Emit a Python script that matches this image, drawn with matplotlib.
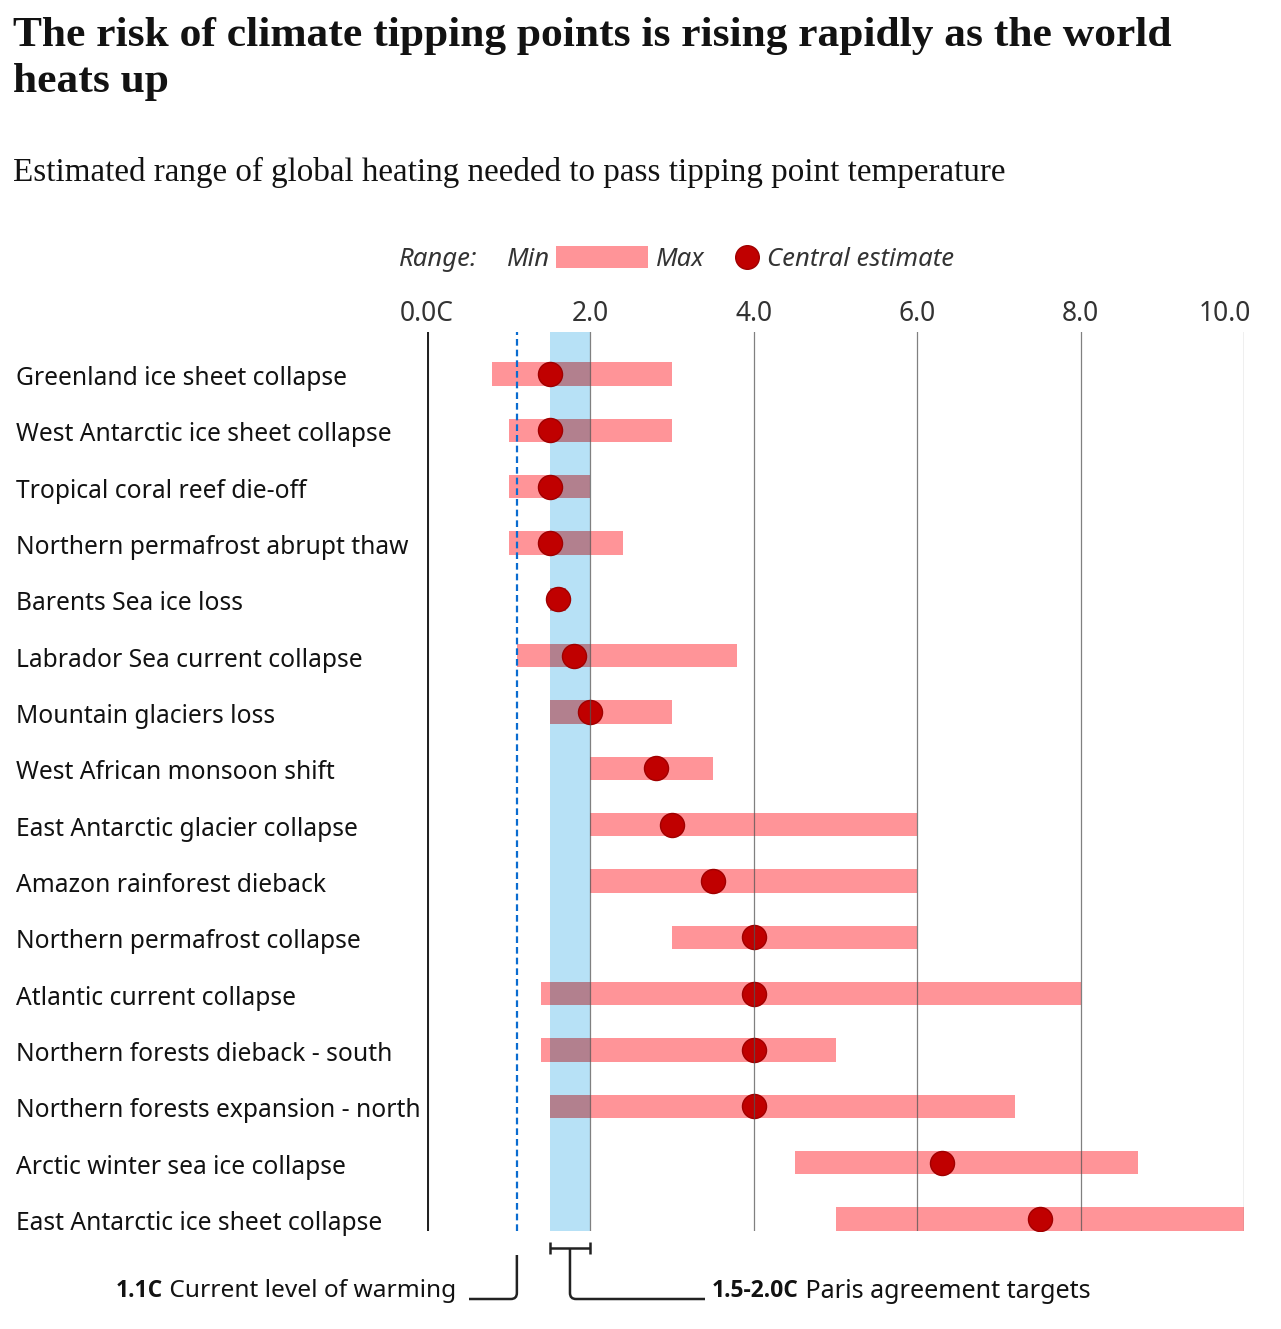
import matplotlib
matplotlib.use("Agg")
import matplotlib.pyplot as plt
from matplotlib.patches import Rectangle
from matplotlib.path import Path
from matplotlib.patches import PathPatch
import matplotlib.transforms as mtrans

# data (degrees C of global heating)
categories = [
    "Greenland ice sheet collapse",
    "West Antarctic ice sheet collapse",
    "Tropical coral reef die-off",
    "Northern permafrost abrupt thaw",
    "Barents Sea ice loss",
    "Labrador Sea current collapse",
    "Mountain glaciers loss",
    "West African monsoon shift",
    "East Antarctic glacier collapse",
    "Amazon rainforest dieback",
    "Northern permafrost collapse",
    "Atlantic current collapse",
    "Northern forests dieback - south",
    "Northern forests expansion - north",
    "Arctic winter sea ice collapse",
    "East Antarctic ice sheet collapse",
]
range_min = [0.8, 1.0, 1.0, 1.0, 1.5, 1.1, 1.5, 2.0, 2.0, 2.0, 3.0, 1.4, 1.4, 1.5, 4.5, 5.0]
range_max = [3.0, 3.0, 2.0, 2.4, 1.7, 3.8, 3.0, 3.5, 6.0, 6.0, 6.0, 8.0, 5.0, 7.2, 8.7, 10.0]
central = [1.5, 1.5, 1.5, 1.5, 1.6, 1.8, 2.0, 2.8, 3.0, 3.5, 4.0, 4.0, 4.0, 4.0, 6.3, 7.5]

tick_values = [0, 2, 4, 6, 8, 10]
tick_labels = ["0.0C", "2.0", "4.0", "6.0", "8.0", "10.0"]

current_warming = 1.1
paris_low, paris_high = 1.5, 2.0

SANS = "Noto Sans"
SANS_BOLD = "Open Sans"
SERIF = "Liberation Serif"
PINK = "#ff9498"
MAUVE = "#b2808e"
BLUE = "#b7e1f6"
RED = "#c00000"

W, H = 1281, 1329
fig = plt.figure(figsize=(W / 100, H / 100), dpi=100)

def fx(p):
    return p / W

def fy(p):
    return 1 - p / H

AX_L, AX_R, AX_T, AX_B = 427, 1244, 332, 1231
ax = fig.add_axes([fx(AX_L), fy(AX_B), fx(AX_R - AX_L), (AX_B - AX_T) / H])
ax.set_xlim(0, 10)
ax.set_ylim(15.213, -0.746)
ax.axis("off")

rows = list(range(len(categories)))

# Paris band and current warming line
ax.axvspan(paris_low, paris_high, color=BLUE, lw=0, zorder=1)
ax.axvline(current_warming, color="#0a6cd0", lw=1.6, ls=(0, (3, 1.8)), zorder=7)

# ranges
widths = [hi - lo for lo, hi in zip(range_min, range_max)]
ax.barh(rows, widths, left=range_min, height=0.41, color=PINK, lw=0, zorder=2)
for r, lo, hi in zip(rows, range_min, range_max):
    a, b = max(lo, paris_low), min(hi, paris_high)
    if b > a:
        ax.barh(r, b - a, left=a, height=0.41, color=MAUVE, lw=0, zorder=3)

ax.scatter(central, rows, s=300, color=RED, edgecolor="#a00000", lw=1, zorder=5)

# vertical gridlines
ax.axvline(0, color="#222222", lw=2.2, zorder=6)
for v in tick_values[1:]:
    ax.axvline(v, color="#555555", lw=0.9, alpha=0.75, zorder=6)

# tick labels on top (last one kept inside the frame)
for v, lab in zip(tick_values, tick_labels):
    xv = fx(AX_L) + v / 10 * fx(AX_R - AX_L)
    ha = "center"
    if v == tick_values[-1]:
        xv, ha = fx(1251), "right"
    fig.text(xv, fy(314), lab, ha=ha, va="center", fontsize=19,
             family=SANS, color="#333333")

# category labels
lab_tr = mtrans.blended_transform_factory(fig.transFigure, ax.transData)
for r, name in zip(rows, categories):
    ax.text(fx(16), r + 0.08, name, transform=lab_tr, ha="left", va="center",
            fontsize=17.7, family=SANS, color="#121212")

# title and subtitle
fig.text(fx(13), fy(17), "The risk of climate tipping points is rising rapidly as the world\nheats up",
         ha="left", va="top", fontsize=31.3, fontweight="bold", family=SERIF,
         color="#121212", linespacing=1.27)
fig.text(fx(13), fy(172), "Estimated range of global heating needed to pass tipping point temperature",
         ha="left", va="center", fontsize=23.9, family=SERIF, color="#121212")

# legend
leg_y = fy(259)
leg_kw = dict(ha="left", va="center", fontsize=18.5, style="italic", family=SANS, color="#333333")
fig.text(fx(399), leg_y, "Range:", **leg_kw)
fig.text(fx(507), leg_y, "Min", **leg_kw)
fig.patches.append(Rectangle((fx(556), fy(268)), fx(92), 22 / H, transform=fig.transFigure,
                             color=PINK, lw=0))
fig.text(fx(656), leg_y, "Max", **leg_kw)
fig.lines.append(plt.Line2D([fx(747)], [fy(257)], transform=fig.transFigure, marker="o",
                            markersize=17, color=RED, markeredgecolor="#a00000", ls="none"))
fig.text(fx(767), leg_y, "Central estimate", **leg_kw)

# annotations under the chart
def xpix(v):
    return AX_L + v / 10 * (AX_R - AX_L)

def add_path(pts, codes):
    verts = [(fx(a), fy(b)) for a, b in pts]
    fig.patches.append(PathPatch(Path(verts, codes), transform=fig.transFigure,
                                 fill=False, lw=1.8, edgecolor="#222222"))

c = xpix(current_warming)
add_path([(c, 1255), (c, 1293), (c, 1299), (c - 6, 1299), (469, 1299)],
         [Path.MOVETO, Path.LINETO, Path.CURVE3, Path.CURVE3, Path.LINETO])

p1, p2 = xpix(paris_low), xpix(paris_high)
pm = (p1 + p2) / 2
add_path([(p1, 1248), (p2, 1248)], [Path.MOVETO, Path.LINETO])
add_path([(p1, 1242), (p1, 1254)], [Path.MOVETO, Path.LINETO])
add_path([(p2, 1242), (p2, 1254)], [Path.MOVETO, Path.LINETO])
add_path([(pm, 1248), (pm, 1293), (pm, 1299), (pm + 6, 1299), (705, 1299)],
         [Path.MOVETO, Path.LINETO, Path.CURVE3, Path.CURVE3, Path.LINETO])

fig.canvas.draw()
rend = fig.canvas.get_renderer()
t1 = fig.text(fx(456), fy(1291), " Current level of warming", ha="right", va="center",
              fontsize=17.6, family=SANS, color="#121212")
bb = t1.get_window_extent(rend)
fig.text(bb.x0 / W, fy(1291), "1.1C", ha="right", va="center", fontsize=16.5,
         fontweight="bold", family=SANS_BOLD, color="#121212")
t2 = fig.text(fx(712), fy(1291), "1.5-2.0C", ha="left", va="center", fontsize=16.5,
              fontweight="bold", family=SANS_BOLD, color="#121212")
bb = t2.get_window_extent(rend)
fig.text(bb.x1 / W, fy(1291), " Paris agreement targets", ha="left", va="center",
         fontsize=18.1, family=SANS, color="#121212")

fig.savefig("out.png", dpi=100)
